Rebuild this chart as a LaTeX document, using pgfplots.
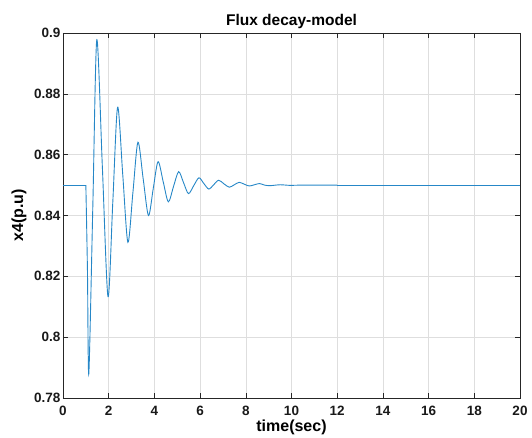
\documentclass[border=0pt]{standalone}
\usepackage{pgfplots}
\pgfplotsset{compat=1.18}
\usetikzlibrary{calc}
\usepackage{fontspec}
\setmainfont{Liberation Sans}
\definecolor{mblue}{rgb}{0,0.447,0.741}
\definecolor{axgray}{gray}{0.15}
\begin{document}
\begin{tikzpicture}
\begin{axis}[
    scale only axis,
    width=457pt, height=365pt,
    xmin=0, xmax=20, ymin=0.78, ymax=0.9,
    xtick={0,2,...,20},
    ytick={0.78,0.8,0.82,0.84,0.86,0.88,0.9},
    yticklabel style={/pgf/number format/fixed, /pgf/number format/precision=2},
    /pgf/number format/assume math mode=true,
    tick label style={font=\fontsize{13.5}{15}\selectfont\bfseries, text=black!90},
    xticklabel style={yshift=-5pt},
    yticklabel style={xshift=1pt},
    grid=major,
    major grid style={line width=0.5pt, draw=black!13},
    axis line style={axgray, line width=0.6pt},
    tick style={axgray, line width=0.5pt},
    tick align=inside,
    major tick length=5pt,
    title={Flux decay-model},
    title style={font=\fontsize{15.5}{17}\selectfont\bfseries,
        at={(rel axis cs:0.5,1)}, anchor=center, yshift=6pt},
    xlabel={time(sec)},
    ylabel={x4(p.u)},
    label style={font=\fontsize{16}{18}\selectfont\bfseries},
    xlabel style={at={(rel axis cs:0.5,0)}, anchor=center, yshift=-29pt},
    ylabel style={at={(rel axis cs:0,0.5)}, anchor=center, yshift=44pt},
]
\addplot[mblue!85, line width=0.9pt] coordinates {(0,0.85) (1.0,0.85)};
\addplot[mblue!85, line width=0.9pt, smooth, tension=0.5] coordinates {
    (1.00,0.8500) (1.07,0.8220) (1.13,0.7880)
    (1.305,0.8430) (1.48,0.8978) (1.725,0.8555) (1.97,0.8133)
    (2.18,0.8445) (2.39,0.8756) (2.615,0.8534) (2.84,0.8312)
    (3.06,0.8476) (3.28,0.8641) (3.51,0.8520) (3.74,0.8400)
    (3.95,0.8489) (4.16,0.8577) (4.385,0.8511) (4.61,0.8445)
    (4.835,0.8495) (5.06,0.8544) (5.275,0.8508) (5.49,0.8472)
    (5.72,0.8498) (5.95,0.8524) (6.165,0.8505) (6.38,0.8487)
    (6.595,0.8501) (6.81,0.8516) (7.045,0.8504) (7.28,0.8493)
    (7.495,0.8501) (7.71,0.8509) (7.93,0.8503) (8.15,0.8497)
    (8.375,0.8501) (8.60,0.8505) (8.82,0.8500) (9.05,0.8498)
    (9.50,0.8501) (9.95,0.8499) (10.5,0.8500) (12,0.8500)
};
\addplot[mblue!85, line width=0.9pt] coordinates {(12,0.85) (20,0.85)};
\end{axis}
\path ($(current axis.south west)+(-63pt,-36pt)$) rectangle ($(current axis.north east)+(12pt,33pt)$);
\end{tikzpicture}
\end{document}
